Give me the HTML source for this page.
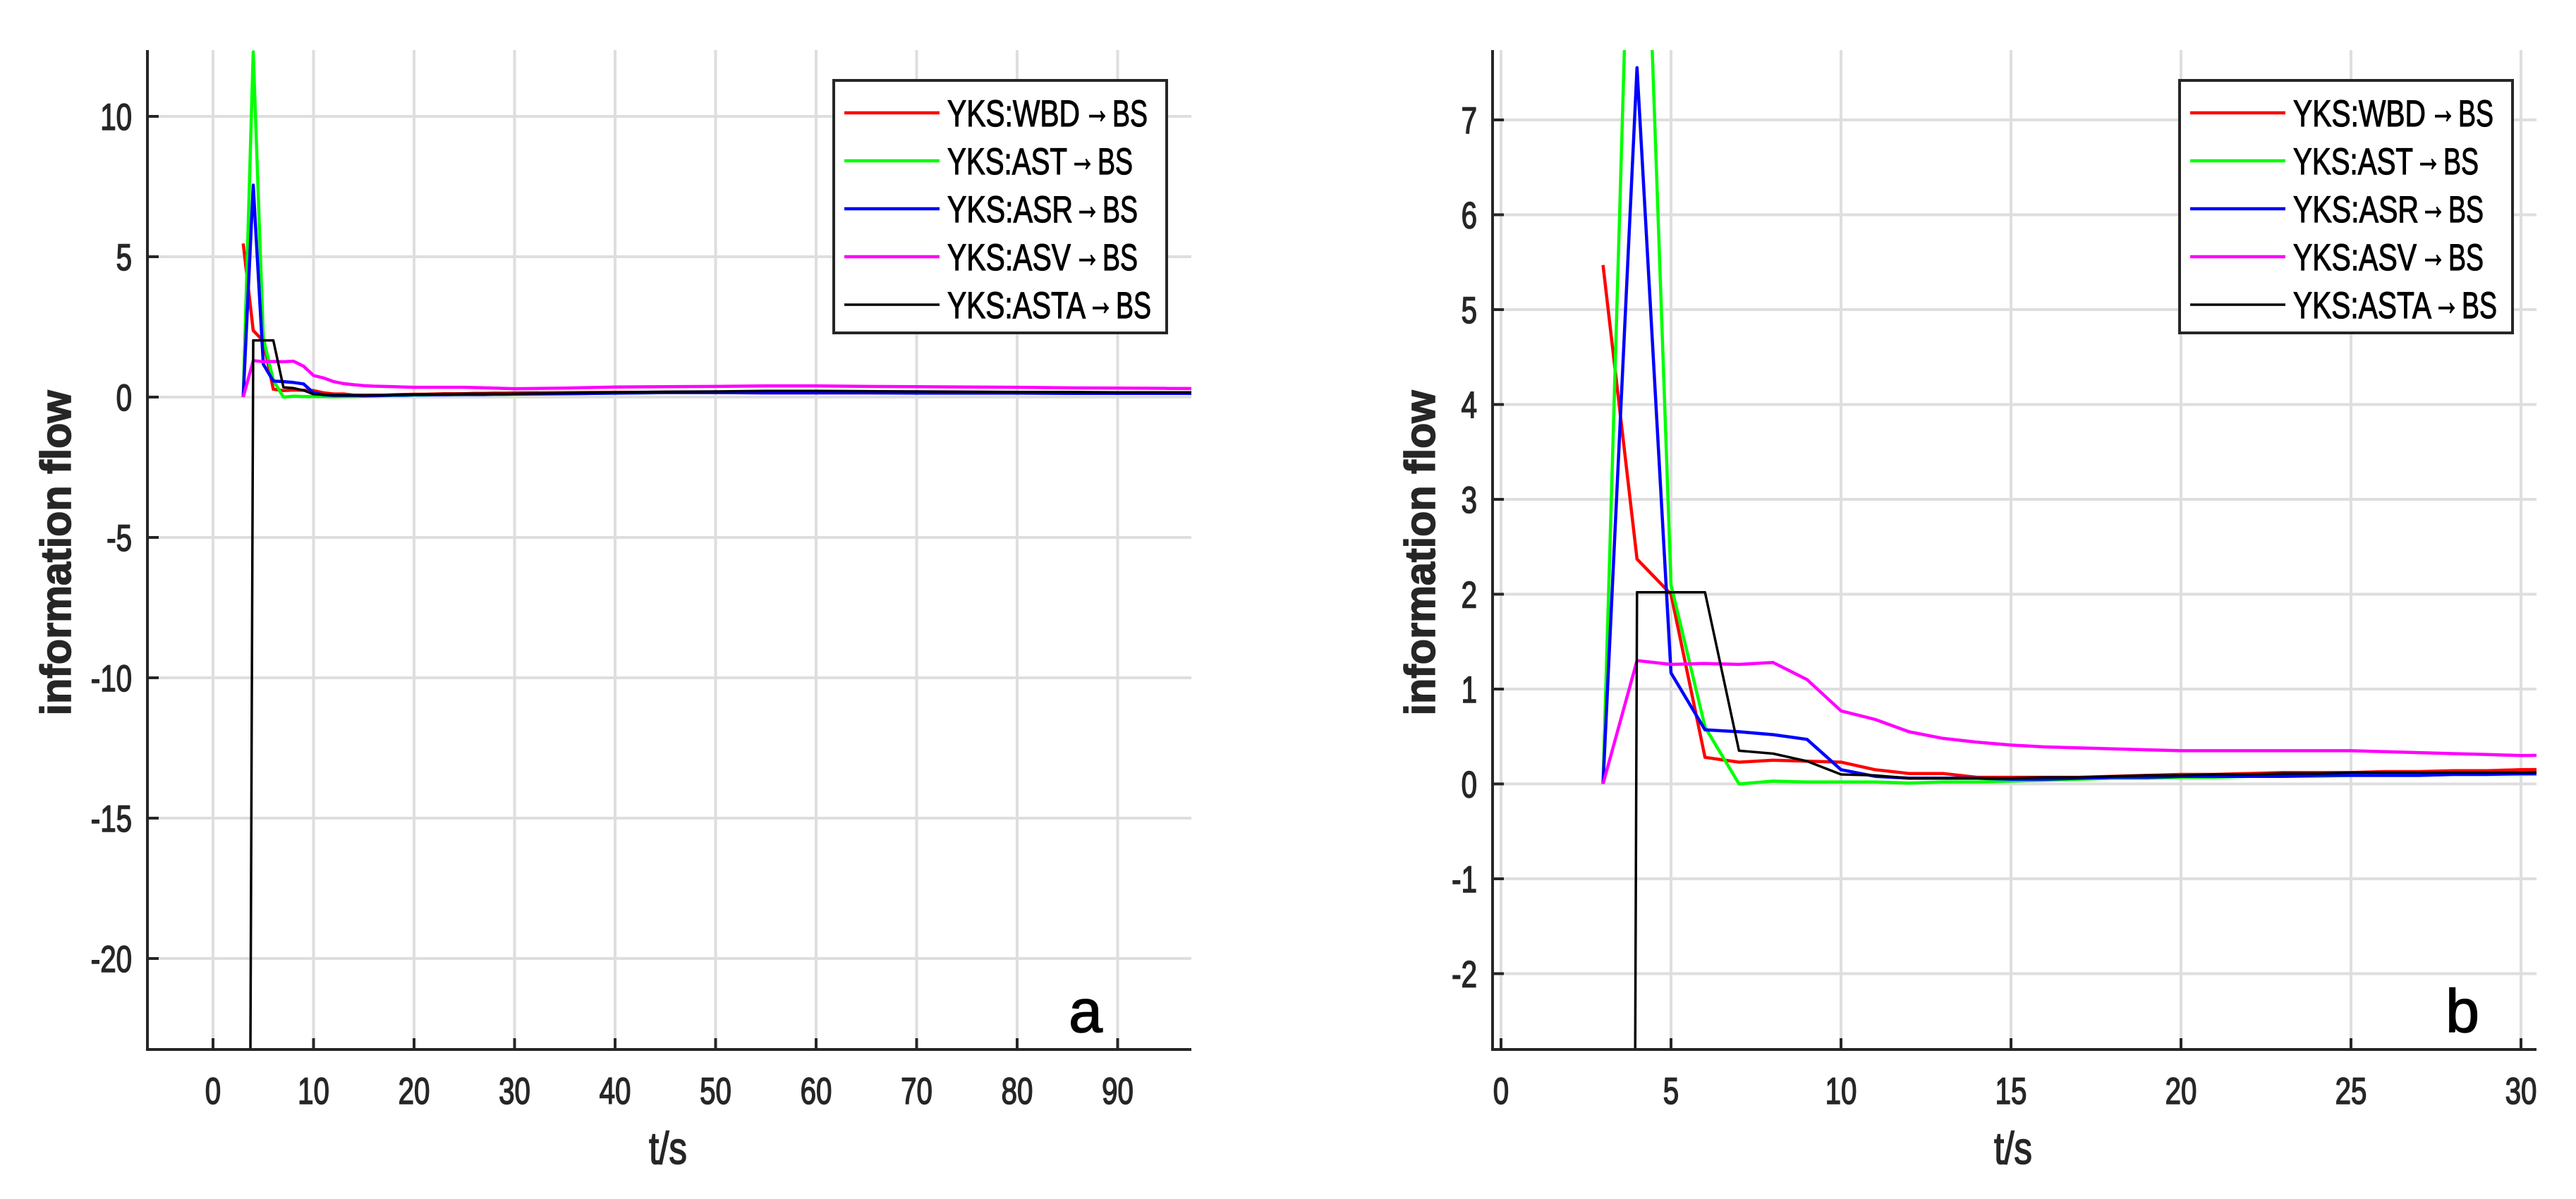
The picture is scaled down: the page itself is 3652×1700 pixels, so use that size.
<!DOCTYPE html>
<html><head><meta charset="utf-8"><style>
html,body{margin:0;padding:0;background:#fff;width:3652px;height:1700px;overflow:hidden;}
svg{display:block;}
text{font-family:"Liberation Sans",sans-serif;fill:#262626;}
</style></head><body>
<svg id="fig" width="3652" height="1700" viewBox="0 0 3652 1700" xmlns="http://www.w3.org/2000/svg">
<defs>
<clipPath id="clipA"><rect x="209" y="71" width="1480" height="1417"/></clipPath>
<clipPath id="clipB"><rect x="2116" y="71" width="1480" height="1417"/></clipPath>
</defs>
<g id="panelA"></g>
<g id="panelB"></g>
</svg>
<script>
const times = [3,4,5,6,7,8,9,10,11,12,13,14,15,16,17,18,19,20,21,22,23,24,25,26,27,28,29,30,35,40,45,50,55,60,65,70,75,80,85,90,95,100];
const wbd = [5.47,2.37,2.0,0.28,0.23,0.25,0.24,0.23,0.15,0.11,0.11,0.07,0.07,0.07,0.07,0.08,0.09,0.1,0.1,0.11,0.12,0.12,0.12,0.13,0.13,0.14,0.14,0.15,0.16,0.17,0.17,0.16,0.15,0.15,0.15,0.15,0.15,0.15,0.15,0.15,0.15,0.15];
const ast = [0,12.3,2.1,0.6,0.0,0.03,0.02,0.02,0.02,0.01,0.02,0.02,0.03,0.04,0.05,0.06,0.06,0.07,0.07,0.08,0.08,0.08,0.09,0.09,0.09,0.1,0.1,0.1,0.12,0.14,0.16,0.17,0.17,0.17,0.16,0.16,0.16,0.16,0.15,0.15,0.15,0.15];
const asr = [0,7.55,1.17,0.57,0.55,0.52,0.47,0.15,0.08,0.06,0.06,0.06,0.05,0.05,0.06,0.07,0.07,0.08,0.08,0.08,0.08,0.09,0.09,0.09,0.09,0.1,0.1,0.11,0.12,0.14,0.16,0.16,0.15,0.15,0.15,0.14,0.14,0.14,0.13,0.13,0.13,0.13];
const asv = [0,1.3,1.26,1.27,1.26,1.28,1.1,0.77,0.68,0.55,0.48,0.44,0.41,0.39,0.38,0.37,0.36,0.35,0.35,0.35,0.35,0.35,0.35,0.34,0.33,0.32,0.31,0.30,0.32,0.36,0.37,0.38,0.4,0.4,0.38,0.37,0.36,0.35,0.33,0.32,0.31,0.3];
const asta = [-88,2.02,2.02,2.02,0.35,0.32,0.24,0.1,0.09,0.06,0.06,0.06,0.06,0.07,0.07,0.08,0.09,0.09,0.1,0.1,0.11,0.11,0.12,0.12,0.12,0.12,0.12,0.12,0.14,0.17,0.19,0.2,0.22,0.22,0.21,0.2,0.19,0.18,0.18,0.17,0.17,0.17];
const seriesPrefix = ["YKS:WBD","YKS:AST","YKS:ASR","YKS:ASV","YKS:ASTA"];
const xTicksA = [0,10,20,30,40,50,60,70,80,90];
const yTicksA = [-20,-15,-10,-5,0,5,10];
const xTicksB = [0,5,10,15,20,25,30];
const yTicksB = [-2,-1,0,1,2,3,4,5,6,7];

const NS="http://www.w3.org/2000/svg";
function mk(tag, attrs, parent){const e=document.createElementNS(NS,tag);for(const k in attrs)e.setAttribute(k,attrs[k]);parent.appendChild(e);return e;}
const seriesData=[wbd,ast,asr,asv,asta];
const colors=["#ff0000","#00ff00","#0000ff","#ff00ff","#000000"];
const widths=[4.5,4.5,4.5,4.5,3.5];
const boldish='stroke:#262626;stroke-width:1.6px;';

function drawPanel(g, cfg){
  const L=cfg.left,R=cfg.right,T=71,B=1488;
  const sx=v=>cfg.x0px+(v)*cfg.xs;
  const sy=v=>cfg.y0px-(v)*cfg.ys;
  cfg.xt.forEach(v=>{const l=mk('line',{x1:sx(v),x2:sx(v),y1:T,y2:B,stroke:'#dedede','stroke-width':4},g);
    
    });
  cfg.yt.forEach(v=>{const l=mk('line',{x1:L,x2:R,y1:sy(v),y2:sy(v),stroke:'#dedede','stroke-width':4},g);
    
    });
  const sg=mk('g',{'clip-path':cfg.clip},g);
  
  
  seriesData.forEach((arr,i)=>{
    const pts=arr.map((v,j)=>sx(times[j]).toFixed(1)+','+sy(v).toFixed(1)).join(' ');
    const p=mk('polyline',{points:pts,fill:'none',stroke:colors[i],'stroke-width':widths[i],'stroke-linejoin':'round'},sg);
    
    
  });
  const ax=mk('line',{x1:L,x2:L,y1:T,y2:B+2,stroke:'#262626','stroke-width':4},g);
  
  
  const bx=mk('line',{x1:L-2,x2:R,y1:B,y2:B,stroke:'#262626','stroke-width':4},g);
  
  
  cfg.xt.forEach(v=>{
    const t=mk('line',{x1:sx(v),x2:sx(v),y1:B,y2:B-16,stroke:'#262626','stroke-width':4},g);
    
    
    const tx=mk('text',{transform:`translate(${sx(v)},1565) scale(0.76,1)`,'text-anchor':'middle','font-size':53,style:boldish},g);
    tx.textContent=String(v);
    
    
  });
  cfg.yt.forEach(v=>{
    const t=mk('line',{x1:L,x2:L+16,y1:sy(v),y2:sy(v),stroke:'#262626','stroke-width':4},g);
    
    
    const tx=mk('text',{transform:`translate(${cfg.ylabRight},${sy(v)+19}) scale(0.76,1)`,'text-anchor':'end','font-size':53,style:boldish},g);
    tx.textContent=String(v);
    
    
  });
  const yt=mk('text',{transform:`translate(${cfg.ytitleX},784) rotate(-90)`,'text-anchor':'middle','font-size':60,'font-weight':'bold',textLength:461,lengthAdjust:'spacingAndGlyphs',style:boldish},g);
  yt.textContent='information flow';
  
  
  const xt=mk('text',{transform:`translate(${cfg.xtitleX},1650) scale(0.8,1)`,'text-anchor':'middle','font-size':64,style:boldish},g);
  xt.textContent='t/s';
  
  
  const pl=mk('text',{x:cfg.letterX,y:1463,'text-anchor':'middle','font-size':86,style:'fill:#000;stroke:#000;stroke-width:1.5px;'},g);
  pl.textContent=cfg.letter;
  
  
  const lg=mk('g',{},g);
  
  
  mk('rect',{x:cfg.legX,y:114,width:472,height:358,fill:'#fff',stroke:'#262626','stroke-width':4},lg);
  const rows=[160,228,296,364,432];
  const preLen=[188,170,178,175,196];
  const gap=[6,3,2,5,3];
  seriesPrefix.forEach((n,i)=>{
    const e=mk('g',{},lg);
    
    
    mk('line',{x1:cfg.legX+15,x2:cfg.legX+150,y1:rows[i],y2:rows[i],stroke:colors[i],'stroke-width':widths[i]},e);
    const x0=cfg.legX+161;
    const t1=mk('text',{x:x0,y:rows[i]+19,'font-size':53,style:'fill:#000;stroke:#000;stroke-width:1.2px;',textLength:preLen[i],lengthAdjust:'spacingAndGlyphs'},e);
    t1.textContent=n;
    const ax0=x0+preLen[i]+gap[i];
    const t2=mk('text',{x:ax0,y:rows[i]+14,'font-size':56,style:'fill:#000;stroke:#000;stroke-width:1.5px;',textLength:37,lengthAdjust:'spacingAndGlyphs'},e);
    t2.textContent='\u2192';
    const t3=mk('text',{x:ax0+40,y:rows[i]+19,'font-size':53,style:'fill:#000;stroke:#000;stroke-width:1.2px;',textLength:50,lengthAdjust:'spacingAndGlyphs'},e);
    t3.textContent='BS';
  });
}
drawPanel(document.getElementById('panelA'),{left:209,right:1689,x0px:302,xs:14.25,y0px:563,ys:39.8,xt:xTicksA,yt:yTicksA,clip:'url(#clipA)',ylabRight:187,ytitleX:100,xtitleX:947,letter:'a',letterX:1539,legX:1182});
drawPanel(document.getElementById('panelB'),{left:2116,right:3596,x0px:2128,xs:48.2,y0px:1111.5,ys:134.5,xt:xTicksB,yt:yTicksB,clip:'url(#clipB)',ylabRight:2094,ytitleX:2034,xtitleX:2854,letter:'b',letterX:3491,legX:3090});
</script>
</body></html>
